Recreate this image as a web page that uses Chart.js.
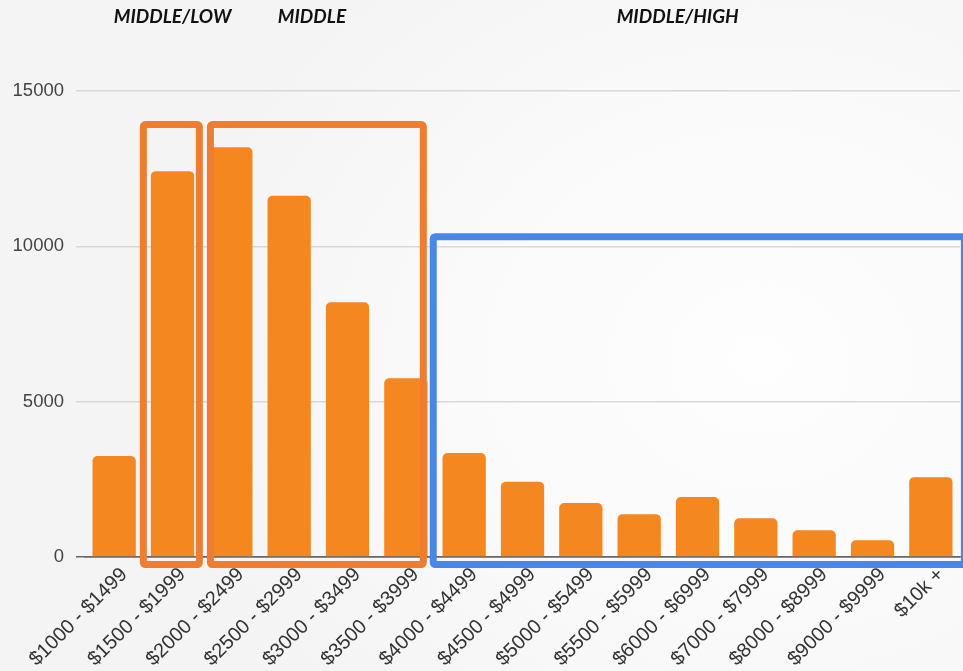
<!DOCTYPE html>
<html>
<head>
<meta charset="utf-8">
<script src="https://cdn.jsdelivr.net/npm/chart.js@4"></script>
<style>
  html, body { margin: 0; padding: 0; }
  body {
    width: 963px; height: 671px; overflow: hidden;
    background: radial-gradient(ellipse 620px 520px at 760px 360px, #fefefe 0%, #fafafa 45%, #f4f4f4 100%);
  }
  #wrap { position: relative; width: 963px; height: 671px; }
</style>
</head>
<body>
<div id="wrap"><canvas id="c"></canvas></div>
<script>
// ---- data ----
const categories = ['$1000 - $1499', '$1500 - $1999', '$2000 - $2499', '$2500 - $2999',
  '$3000 - $3499', '$3500 - $3999', '$4000 - $4499', '$4500 - $4999', '$5000 - $5499',
  '$5500 - $5999', '$6000 - $6999', '$7000 - $7999', '$8000 - $8999', '$9000 - $9999', '$10k +'];
const counts = [3250, 12420, 13190, 11630, 8200, 5750, 3350, 2420, 1740, 1380, 1930, 1250, 860, 540, 2570];
const yTicks = [0, 5000, 10000, 15000];

// group annotations: label, first category, last category, top value
const groupLabels = ['MIDDLE/LOW', 'MIDDLE', 'MIDDLE/HIGH'];
const groupFirst = [1, 2, 6];
const groupLast = [1, 5, 14];
const groupTop = [13920, 13920, 10310];

// ---- styles (not data) ----
const groupColors = ['#ed7d31', '#ed7d31', '#4a86e8'];
const groupInsetL = [0.0, 0.15, -0.03];   // in category widths
const groupInsetR = [0.04, 0.2, -0.075];
const titleIndex = [1.0, 3.39, 9.66];     // category position of title centres

const groupPlugin = {
  id: 'groups',
  afterDatasetsDraw(chart) {
    const ctx = chart.ctx;
    const x = chart.scales.x, y = chart.scales.y;
    const step = x.getPixelForValue(1) - x.getPixelForValue(0);
    ctx.save();
    for (let i = 0; i < groupLabels.length; i++) {
      const left = x.getPixelForValue(groupFirst[i]) - step / 2 + groupInsetL[i] * step;
      const right = x.getPixelForValue(groupLast[i]) + step / 2 - groupInsetR[i] * step;
      const top = y.getPixelForValue(groupTop[i]);
      const bottom = y.getPixelForValue(0) + 7.5;
      ctx.lineWidth = 7;
      ctx.strokeStyle = groupColors[i];
      ctx.lineJoin = 'round';
      ctx.beginPath();
      ctx.roundRect(left, top, right - left, bottom - top, 2);
      ctx.stroke();
    }
    ctx.restore();
  },
  afterDraw(chart) {
    const ctx = chart.ctx;
    const x = chart.scales.x;
    const step = x.getPixelForValue(1) - x.getPixelForValue(0);
    ctx.save();
    ctx.font = 'italic bold 19px Lato';
    ctx.fillStyle = '#111';
    ctx.textAlign = 'center';
    ctx.textBaseline = 'alphabetic';
    for (let i = 0; i < groupLabels.length; i++) {
      const cx = x.getPixelForValue(0) + titleIndex[i] * step;
      ctx.fillText(groupLabels[i], cx, 23);
    }
    ctx.restore();
  }
};

new Chart(document.getElementById('c'), {
  type: 'bar',
  data: {
    labels: categories,
    datasets: [{
      data: counts,
      backgroundColor: '#f58720',
      borderRadius: 5,
      borderSkipped: 'start',
      barPercentage: 0.742,
      categoryPercentage: 1.0
    }]
  },
  options: {
    responsive: true,
    maintainAspectRatio: false,
    animation: false,
    layout: { padding: { top: 91, left: 10, right: 3, bottom: 0 } },
    plugins: { legend: { display: false }, tooltip: { enabled: false }, title: { display: false } },
    scales: {
      x: {
        grid: { display: false },
        border: { display: true, color: '#666', width: 1.5 },
        ticks: {
          color: '#333',
          font: { family: 'Liberation Sans, Arial', size: 20 },
          maxRotation: 45, minRotation: 45, autoSkip: false, padding: -2,
          labelOffset: 10
        },
        afterFit(s) { s.height = 114; }
      },
      y: {
        min: 0, max: 15000,
        afterBuildTicks(s) { s.ticks = yTicks.map(v => ({ value: v })); },
        border: { display: false },
        grid: {
          color: ctx => (ctx.tick && ctx.tick.value === 0) ? '#666' : '#d8d8d8',
          lineWidth: 1.5,
          drawTicks: true,
          tickLength: 9,
          tickColor: ctx => (ctx.tick && ctx.tick.value === 0) ? '#666' : '#d8d8d8'
        },
        ticks: {
          color: '#444',
          font: { family: 'Liberation Sans, Arial', size: 18.5 },
          padding: 12,
          callback: v => String(v)
        },
        afterFit(s) { s.width = 75; }
      }
    }
  },
  plugins: [groupPlugin]
});
</script>
</body>
</html>
